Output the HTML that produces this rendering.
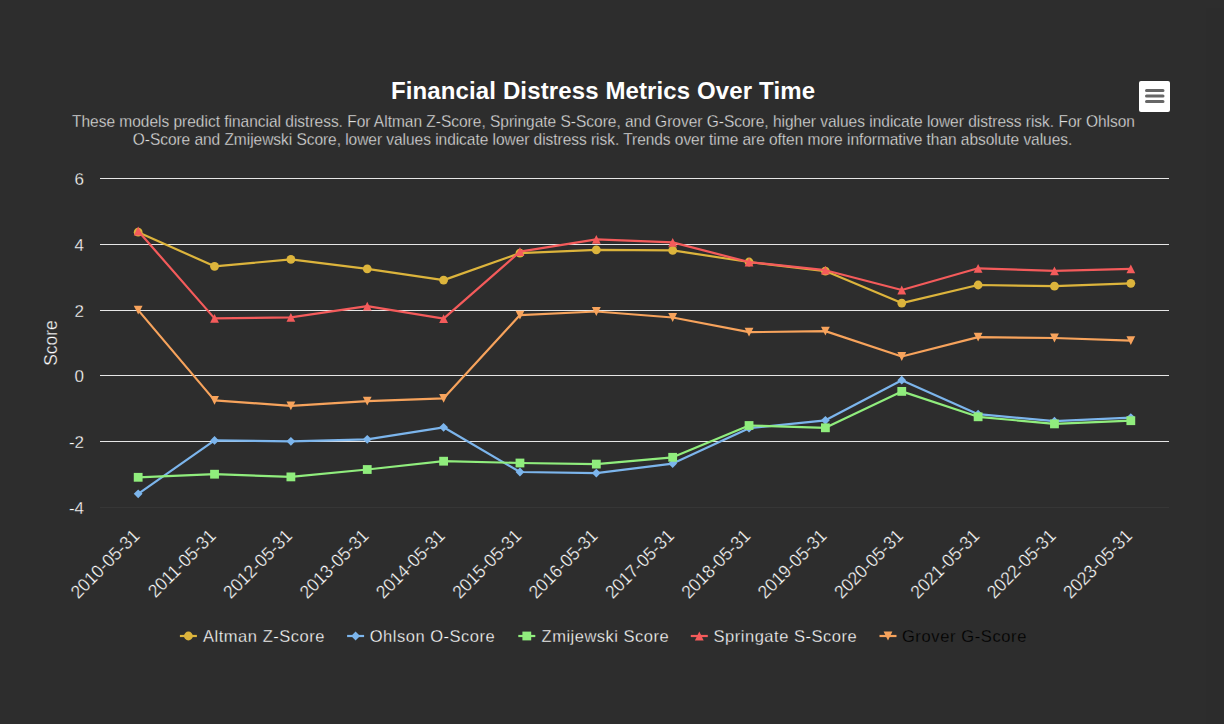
<!DOCTYPE html><html><head><meta charset="utf-8"><style>html,body{margin:0;padding:0;background:#2d2d2d;overflow:hidden}svg{display:block;font-family:"Liberation Sans",sans-serif}</style></head><body>
<svg width="1224" height="724" viewBox="0 0 1224 724">
<rect x="0" y="0" width="1224" height="724" fill="#2d2d2d"/>
<rect x="1206" y="8" width="18" height="716" fill="#2c2c2c"/>
<text x="603" y="99" text-anchor="middle" font-size="24" font-weight="bold" fill="#ffffff" textLength="424" lengthAdjust="spacing">Financial Distress Metrics Over Time</text>
<text transform="translate(603.5 126.9) scale(1 1.08)" text-anchor="middle" font-size="15.5" fill="#e0e0e0" stroke="#2d2d2d" stroke-width="0.3" textLength="1063" lengthAdjust="spacing">These models predict financial distress. For Altman Z-Score, Springate S-Score, and Grover G-Score, higher values indicate lower distress risk. For Ohlson</text>
<text transform="translate(602.5 145.4) scale(1 1.08)" text-anchor="middle" font-size="15.5" fill="#e0e0e0" stroke="#2d2d2d" stroke-width="0.3" textLength="939.5" lengthAdjust="spacing">O-Score and Zmijewski Score, lower values indicate lower distress risk. Trends over time are often more informative than absolute values.</text>
<rect x="1139" y="81" width="31" height="31" rx="2" fill="#ffffff"/>
<path d="M1146.5 90.5H1163M1146.5 96H1163M1146.5 101.5H1163" stroke="#666666" stroke-width="3" stroke-linecap="round"/>
<path d="M100 178.5H1169" stroke="#e6e6e6" stroke-width="1"/>
<text x="84" y="184.8" text-anchor="end" font-size="17" fill="#ffffff" stroke="#2d2d2d" stroke-width="0.3">6</text>
<path d="M100 244.5H1169" stroke="#e6e6e6" stroke-width="1"/>
<text x="84" y="250.8" text-anchor="end" font-size="17" fill="#ffffff" stroke="#2d2d2d" stroke-width="0.3">4</text>
<path d="M100 310.5H1169" stroke="#e6e6e6" stroke-width="1"/>
<text x="84" y="316.8" text-anchor="end" font-size="17" fill="#ffffff" stroke="#2d2d2d" stroke-width="0.3">2</text>
<path d="M100 375.5H1169" stroke="#e6e6e6" stroke-width="1"/>
<text x="84" y="381.8" text-anchor="end" font-size="17" fill="#ffffff" stroke="#2d2d2d" stroke-width="0.3">0</text>
<path d="M100 441.5H1169" stroke="#e6e6e6" stroke-width="1"/>
<text x="84" y="447.8" text-anchor="end" font-size="17" fill="#ffffff" stroke="#2d2d2d" stroke-width="0.3">-2</text>
<path d="M100 507.5H1169" stroke="#363636" stroke-width="1"/>
<text x="84" y="513.8" text-anchor="end" font-size="17" fill="#ffffff" stroke="#2d2d2d" stroke-width="0.3">-4</text>
<text transform="translate(57 343) rotate(-90)" text-anchor="middle" font-size="17.5" fill="#ffffff" stroke="#2d2d2d" stroke-width="0.3">Score</text>
<text transform="translate(140.68 537) rotate(-45) scale(1 1.06)" text-anchor="end" font-size="17.3" fill="#ffffff" stroke="#2d2d2d" stroke-width="0.3">2010-05-31</text>
<text transform="translate(217.04 537) rotate(-45) scale(1 1.06)" text-anchor="end" font-size="17.3" fill="#ffffff" stroke="#2d2d2d" stroke-width="0.3">2011-05-31</text>
<text transform="translate(293.39 537) rotate(-45) scale(1 1.06)" text-anchor="end" font-size="17.3" fill="#ffffff" stroke="#2d2d2d" stroke-width="0.3">2012-05-31</text>
<text transform="translate(369.75 537) rotate(-45) scale(1 1.06)" text-anchor="end" font-size="17.3" fill="#ffffff" stroke="#2d2d2d" stroke-width="0.3">2013-05-31</text>
<text transform="translate(446.11 537) rotate(-45) scale(1 1.06)" text-anchor="end" font-size="17.3" fill="#ffffff" stroke="#2d2d2d" stroke-width="0.3">2014-05-31</text>
<text transform="translate(522.46 537) rotate(-45) scale(1 1.06)" text-anchor="end" font-size="17.3" fill="#ffffff" stroke="#2d2d2d" stroke-width="0.3">2015-05-31</text>
<text transform="translate(598.82 537) rotate(-45) scale(1 1.06)" text-anchor="end" font-size="17.3" fill="#ffffff" stroke="#2d2d2d" stroke-width="0.3">2016-05-31</text>
<text transform="translate(675.18 537) rotate(-45) scale(1 1.06)" text-anchor="end" font-size="17.3" fill="#ffffff" stroke="#2d2d2d" stroke-width="0.3">2017-05-31</text>
<text transform="translate(751.54 537) rotate(-45) scale(1 1.06)" text-anchor="end" font-size="17.3" fill="#ffffff" stroke="#2d2d2d" stroke-width="0.3">2018-05-31</text>
<text transform="translate(827.89 537) rotate(-45) scale(1 1.06)" text-anchor="end" font-size="17.3" fill="#ffffff" stroke="#2d2d2d" stroke-width="0.3">2019-05-31</text>
<text transform="translate(904.25 537) rotate(-45) scale(1 1.06)" text-anchor="end" font-size="17.3" fill="#ffffff" stroke="#2d2d2d" stroke-width="0.3">2020-05-31</text>
<text transform="translate(980.61 537) rotate(-45) scale(1 1.06)" text-anchor="end" font-size="17.3" fill="#ffffff" stroke="#2d2d2d" stroke-width="0.3">2021-05-31</text>
<text transform="translate(1056.96 537) rotate(-45) scale(1 1.06)" text-anchor="end" font-size="17.3" fill="#ffffff" stroke="#2d2d2d" stroke-width="0.3">2022-05-31</text>
<text transform="translate(1133.32 537) rotate(-45) scale(1 1.06)" text-anchor="end" font-size="17.3" fill="#ffffff" stroke="#2d2d2d" stroke-width="0.3">2023-05-31</text>
<path d="M138.18 232.20 L214.54 266.30 L290.89 259.40 L367.25 268.80 L443.61 280.10 L519.96 253.10 L596.32 249.90 L672.68 250.40 L749.04 262.00 L825.39 271.10 L901.75 303.10 L978.11 285.00 L1054.46 286.20 L1130.82 283.30" fill="none" stroke="#dcb43c" stroke-width="2.2" stroke-linejoin="round" stroke-linecap="round"/>
<circle cx="138.18" cy="232.20" r="4.4" fill="#dcb43c"/>
<circle cx="214.54" cy="266.30" r="4.4" fill="#dcb43c"/>
<circle cx="290.89" cy="259.40" r="4.4" fill="#dcb43c"/>
<circle cx="367.25" cy="268.80" r="4.4" fill="#dcb43c"/>
<circle cx="443.61" cy="280.10" r="4.4" fill="#dcb43c"/>
<circle cx="519.96" cy="253.10" r="4.4" fill="#dcb43c"/>
<circle cx="596.32" cy="249.90" r="4.4" fill="#dcb43c"/>
<circle cx="672.68" cy="250.40" r="4.4" fill="#dcb43c"/>
<circle cx="749.04" cy="262.00" r="4.4" fill="#dcb43c"/>
<circle cx="825.39" cy="271.10" r="4.4" fill="#dcb43c"/>
<circle cx="901.75" cy="303.10" r="4.4" fill="#dcb43c"/>
<circle cx="978.11" cy="285.00" r="4.4" fill="#dcb43c"/>
<circle cx="1054.46" cy="286.20" r="4.4" fill="#dcb43c"/>
<circle cx="1130.82" cy="283.30" r="4.4" fill="#dcb43c"/>
<path d="M138.18 493.80 L214.54 440.40 L290.89 441.30 L367.25 439.30 L443.61 427.30 L519.96 472.00 L596.32 473.10 L672.68 463.60 L749.04 428.20 L825.39 420.30 L901.75 380.20 L978.11 414.20 L1054.46 421.20 L1130.82 417.60" fill="none" stroke="#7cb5ec" stroke-width="2.2" stroke-linejoin="round" stroke-linecap="round"/>
<path d="M138.18 489.40L142.58 493.80L138.18 498.20L133.78 493.80Z" fill="#7cb5ec"/>
<path d="M214.54 436.00L218.94 440.40L214.54 444.80L210.14 440.40Z" fill="#7cb5ec"/>
<path d="M290.89 436.90L295.29 441.30L290.89 445.70L286.49 441.30Z" fill="#7cb5ec"/>
<path d="M367.25 434.90L371.65 439.30L367.25 443.70L362.85 439.30Z" fill="#7cb5ec"/>
<path d="M443.61 422.90L448.01 427.30L443.61 431.70L439.21 427.30Z" fill="#7cb5ec"/>
<path d="M519.96 467.60L524.36 472.00L519.96 476.40L515.56 472.00Z" fill="#7cb5ec"/>
<path d="M596.32 468.70L600.72 473.10L596.32 477.50L591.92 473.10Z" fill="#7cb5ec"/>
<path d="M672.68 459.20L677.08 463.60L672.68 468.00L668.28 463.60Z" fill="#7cb5ec"/>
<path d="M749.04 423.80L753.44 428.20L749.04 432.60L744.64 428.20Z" fill="#7cb5ec"/>
<path d="M825.39 415.90L829.79 420.30L825.39 424.70L820.99 420.30Z" fill="#7cb5ec"/>
<path d="M901.75 375.80L906.15 380.20L901.75 384.60L897.35 380.20Z" fill="#7cb5ec"/>
<path d="M978.11 409.80L982.51 414.20L978.11 418.60L973.71 414.20Z" fill="#7cb5ec"/>
<path d="M1054.46 416.80L1058.86 421.20L1054.46 425.60L1050.06 421.20Z" fill="#7cb5ec"/>
<path d="M1130.82 413.20L1135.22 417.60L1130.82 422.00L1126.42 417.60Z" fill="#7cb5ec"/>
<path d="M138.18 477.30 L214.54 474.20 L290.89 476.90 L367.25 469.50 L443.61 461.20 L519.96 463.00 L596.32 464.10 L672.68 457.30 L749.04 425.50 L825.39 427.80 L901.75 391.40 L978.11 416.80 L1054.46 423.90 L1130.82 420.70" fill="none" stroke="#90ed7d" stroke-width="2.2" stroke-linejoin="round" stroke-linecap="round"/>
<rect x="133.78" y="472.90" width="8.8" height="8.8" fill="#90ed7d"/>
<rect x="210.14" y="469.80" width="8.8" height="8.8" fill="#90ed7d"/>
<rect x="286.49" y="472.50" width="8.8" height="8.8" fill="#90ed7d"/>
<rect x="362.85" y="465.10" width="8.8" height="8.8" fill="#90ed7d"/>
<rect x="439.21" y="456.80" width="8.8" height="8.8" fill="#90ed7d"/>
<rect x="515.56" y="458.60" width="8.8" height="8.8" fill="#90ed7d"/>
<rect x="591.92" y="459.70" width="8.8" height="8.8" fill="#90ed7d"/>
<rect x="668.28" y="452.90" width="8.8" height="8.8" fill="#90ed7d"/>
<rect x="744.64" y="421.10" width="8.8" height="8.8" fill="#90ed7d"/>
<rect x="820.99" y="423.40" width="8.8" height="8.8" fill="#90ed7d"/>
<rect x="897.35" y="387.00" width="8.8" height="8.8" fill="#90ed7d"/>
<rect x="973.71" y="412.40" width="8.8" height="8.8" fill="#90ed7d"/>
<rect x="1050.06" y="419.50" width="8.8" height="8.8" fill="#90ed7d"/>
<rect x="1126.42" y="416.30" width="8.8" height="8.8" fill="#90ed7d"/>
<path d="M138.18 231.00 L214.54 318.40 L290.89 317.30 L367.25 306.20 L443.61 318.70 L519.96 251.70 L596.32 239.30 L672.68 242.40 L749.04 262.10 L825.39 270.20 L901.75 290.00 L978.11 268.30 L1054.46 270.90 L1130.82 268.80" fill="none" stroke="#f45b5b" stroke-width="2.2" stroke-linejoin="round" stroke-linecap="round"/>
<path d="M138.18 226.60L142.58 235.40L133.78 235.40Z" fill="#f45b5b"/>
<path d="M214.54 314.00L218.94 322.80L210.14 322.80Z" fill="#f45b5b"/>
<path d="M290.89 312.90L295.29 321.70L286.49 321.70Z" fill="#f45b5b"/>
<path d="M367.25 301.80L371.65 310.60L362.85 310.60Z" fill="#f45b5b"/>
<path d="M443.61 314.30L448.01 323.10L439.21 323.10Z" fill="#f45b5b"/>
<path d="M519.96 247.30L524.36 256.10L515.56 256.10Z" fill="#f45b5b"/>
<path d="M596.32 234.90L600.72 243.70L591.92 243.70Z" fill="#f45b5b"/>
<path d="M672.68 238.00L677.08 246.80L668.28 246.80Z" fill="#f45b5b"/>
<path d="M749.04 257.70L753.44 266.50L744.64 266.50Z" fill="#f45b5b"/>
<path d="M825.39 265.80L829.79 274.60L820.99 274.60Z" fill="#f45b5b"/>
<path d="M901.75 285.60L906.15 294.40L897.35 294.40Z" fill="#f45b5b"/>
<path d="M978.11 263.90L982.51 272.70L973.71 272.70Z" fill="#f45b5b"/>
<path d="M1054.46 266.50L1058.86 275.30L1050.06 275.30Z" fill="#f45b5b"/>
<path d="M1130.82 264.40L1135.22 273.20L1126.42 273.20Z" fill="#f45b5b"/>
<path d="M138.18 310.10 L214.54 400.40 L290.89 405.80 L367.25 401.20 L443.61 398.30 L519.96 315.10 L596.32 311.50 L672.68 317.50 L749.04 332.20 L825.39 331.10 L901.75 356.50 L978.11 337.10 L1054.46 338.00 L1130.82 340.60" fill="none" stroke="#f7a35c" stroke-width="2.2" stroke-linejoin="round" stroke-linecap="round"/>
<path d="M133.78 305.70L142.58 305.70L138.18 314.50Z" fill="#f7a35c"/>
<path d="M210.14 396.00L218.94 396.00L214.54 404.80Z" fill="#f7a35c"/>
<path d="M286.49 401.40L295.29 401.40L290.89 410.20Z" fill="#f7a35c"/>
<path d="M362.85 396.80L371.65 396.80L367.25 405.60Z" fill="#f7a35c"/>
<path d="M439.21 393.90L448.01 393.90L443.61 402.70Z" fill="#f7a35c"/>
<path d="M515.56 310.70L524.36 310.70L519.96 319.50Z" fill="#f7a35c"/>
<path d="M591.92 307.10L600.72 307.10L596.32 315.90Z" fill="#f7a35c"/>
<path d="M668.28 313.10L677.08 313.10L672.68 321.90Z" fill="#f7a35c"/>
<path d="M744.64 327.80L753.44 327.80L749.04 336.60Z" fill="#f7a35c"/>
<path d="M820.99 326.70L829.79 326.70L825.39 335.50Z" fill="#f7a35c"/>
<path d="M897.35 352.10L906.15 352.10L901.75 360.90Z" fill="#f7a35c"/>
<path d="M973.71 332.70L982.51 332.70L978.11 341.50Z" fill="#f7a35c"/>
<path d="M1050.06 333.60L1058.86 333.60L1054.46 342.40Z" fill="#f7a35c"/>
<path d="M1126.42 336.20L1135.22 336.20L1130.82 345.00Z" fill="#f7a35c"/>
<path d="M179.9 636H196.9" stroke="#dcb43c" stroke-width="2.2"/>
<circle cx="188.40" cy="636.00" r="4.4" fill="#dcb43c"/>
<text x="203.0" y="641.5" font-size="16.5" fill="#ffffff" stroke="#2d2d2d" stroke-width="0.3" textLength="121.5" lengthAdjust="spacing">Altman Z-Score</text>
<path d="M347.1 636H364.1" stroke="#7cb5ec" stroke-width="2.2"/>
<path d="M355.60 631.60L360.00 636.00L355.60 640.40L351.20 636.00Z" fill="#7cb5ec"/>
<text x="369.7" y="641.5" font-size="16.5" fill="#ffffff" stroke="#2d2d2d" stroke-width="0.3" textLength="125" lengthAdjust="spacing">Ohlson O-Score</text>
<path d="M518.3 636H535.3" stroke="#90ed7d" stroke-width="2.2"/>
<rect x="522.40" y="631.60" width="8.8" height="8.8" fill="#90ed7d"/>
<text x="541.6" y="641.5" font-size="16.5" fill="#ffffff" stroke="#2d2d2d" stroke-width="0.3" textLength="127" lengthAdjust="spacing">Zmijewski Score</text>
<path d="M690.8 636H707.8" stroke="#f45b5b" stroke-width="2.2"/>
<path d="M699.30 631.60L703.70 640.40L694.90 640.40Z" fill="#f45b5b"/>
<text x="713.6" y="641.5" font-size="16.5" fill="#ffffff" stroke="#2d2d2d" stroke-width="0.3" textLength="143" lengthAdjust="spacing">Springate S-Score</text>
<path d="M879.5 636H896.5" stroke="#f7a35c" stroke-width="2.2"/>
<path d="M883.60 631.60L892.40 631.60L888.00 640.40Z" fill="#f7a35c"/>
<text x="901.9" y="641.5" font-size="16.5" fill="#000000" stroke="#2d2d2d" stroke-width="0.3" textLength="124.5" lengthAdjust="spacing">Grover G-Score</text>
</svg></body></html>
